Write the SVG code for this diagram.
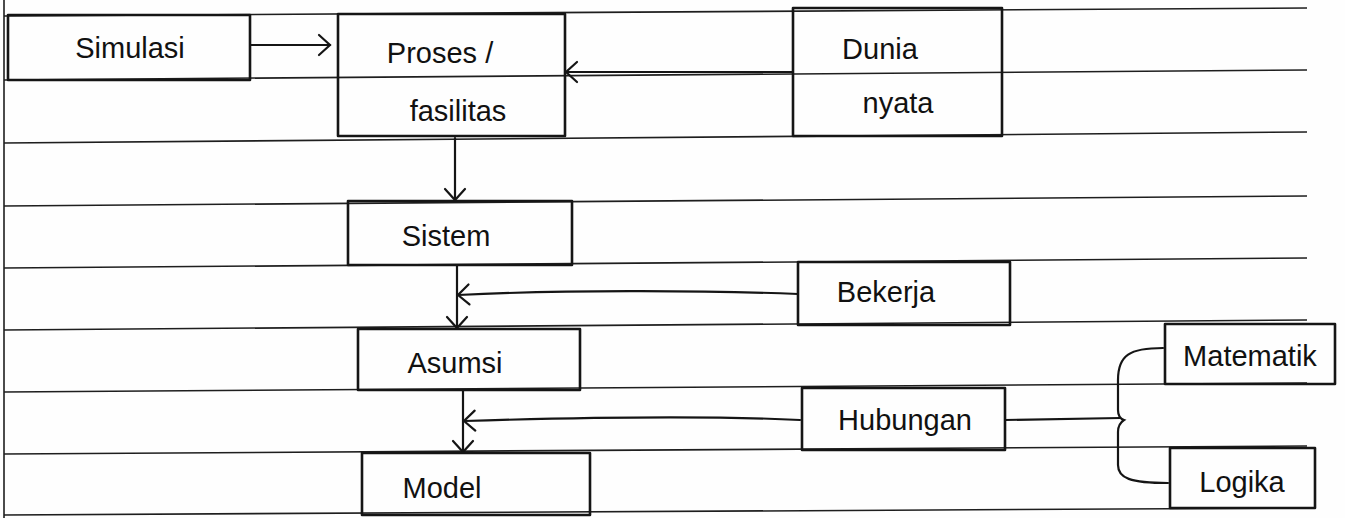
<svg xmlns="http://www.w3.org/2000/svg" width="1345" height="518" viewBox="0 0 1345 518">
<style>
.rule{stroke:#1e1e1e;stroke-width:1.6;fill:none}
.box{fill:none;stroke:#151515;stroke-width:2.6;stroke-linejoin:round}
.con{fill:none;stroke:#151515;stroke-width:2.2;stroke-linecap:round}
.t{font-family:"Liberation Sans","DejaVu Sans",sans-serif;font-size:29px;fill:#111;text-anchor:middle}
</style>
<defs>
<marker id="ah" markerUnits="userSpaceOnUse" markerWidth="30" markerHeight="30" viewBox="-15 -15 30 30" refX="0" refY="0" orient="auto">
<path d="M-11,-10 L0,0 L-11,10" fill="none" stroke="#151515" stroke-width="2.2" stroke-linecap="round"/>
</marker>
</defs>
<rect width="1345" height="518" fill="#fefefe"/>
<g id="paper">
<line class="rule" x1="4" y1="0" x2="4" y2="518"/>
<line class="rule" x1="4" y1="16" x2="1307" y2="8"/>
<line class="rule" x1="4" y1="80" x2="1307" y2="70"/>
<line class="rule" x1="4" y1="143" x2="1307" y2="132"/>
<line class="rule" x1="4" y1="206" x2="1307" y2="196"/>
<line class="rule" x1="4" y1="268" x2="1307" y2="258"/>
<line class="rule" x1="4" y1="330" x2="1307" y2="320"/>
<line class="rule" x1="4" y1="392" x2="1307" y2="383"/>
<line class="rule" x1="4" y1="454" x2="1307" y2="446"/>
<line class="rule" x1="4" y1="515" x2="1307" y2="508"/>
</g>
<g id="connectors">
<line class="con" x1="250" y1="45" x2="330" y2="45" marker-end="url(#ah)"/>
<line class="con" x1="793" y1="72" x2="566" y2="72" marker-end="url(#ah)"/>
<line class="con" x1="455" y1="138" x2="455" y2="200" marker-end="url(#ah)"/>
<line class="con" x1="457" y1="266" x2="457" y2="328" marker-end="url(#ah)"/>
<path class="con" d="M798,294 C700,290 560,290 458,295" marker-end="url(#ah)"/>
<line class="con" x1="463" y1="390" x2="463" y2="452" marker-end="url(#ah)"/>
<path class="con" d="M800,420 C700,415 560,418 464,421" marker-end="url(#ah)"/>
<line class="con" x1="1005" y1="420" x2="1120" y2="418"/>
<path class="con" d="M1163,348 C1130,348 1118,355 1118,380 L1118,410 Q1118,418 1124,420 Q1118,424 1118,432 L1118,465 C1118,478 1130,483 1168,483"/>
</g>
<g id="simulasi">
<rect class="box" x="8" y="15" width="242" height="65"/>
<text class="t" x="130" y="58">Simulasi</text>
</g>
<g id="proses">
<rect class="box" x="338" y="14" width="227" height="122"/>
<text class="t" x="440" y="63">Proses /</text>
<text class="t" x="458" y="121">fasilitas</text>
</g>
<g id="dunia">
<rect class="box" x="793" y="8" width="209" height="128"/>
<text class="t" x="880" y="59">Dunia</text>
<text class="t" x="898" y="113">nyata</text>
</g>
<g id="sistem">
<rect class="box" x="348" y="201" width="224" height="64"/>
<text class="t" x="446" y="246">Sistem</text>
</g>
<g id="bekerja">
<rect class="box" x="798" y="262" width="212" height="63"/>
<text class="t" x="886" y="302">Bekerja</text>
</g>
<g id="asumsi">
<rect class="box" x="358" y="329" width="222" height="61"/>
<text class="t" x="455" y="373">Asumsi</text>
</g>
<g id="hubungan">
<rect class="box" x="802" y="388" width="203" height="62"/>
<text class="t" x="905" y="430">Hubungan</text>
</g>
<g id="model">
<rect class="box" x="362" y="453" width="228" height="62"/>
<text class="t" x="442" y="498">Model</text>
</g>
<g id="matematik">
<rect class="box" x="1165" y="324" width="170" height="60"/>
<text class="t" x="1250" y="366">Matematik</text>
</g>
<g id="logika">
<rect class="box" x="1170" y="448" width="145" height="60"/>
<text class="t" x="1242" y="492">Logika</text>
</g>
</svg>
